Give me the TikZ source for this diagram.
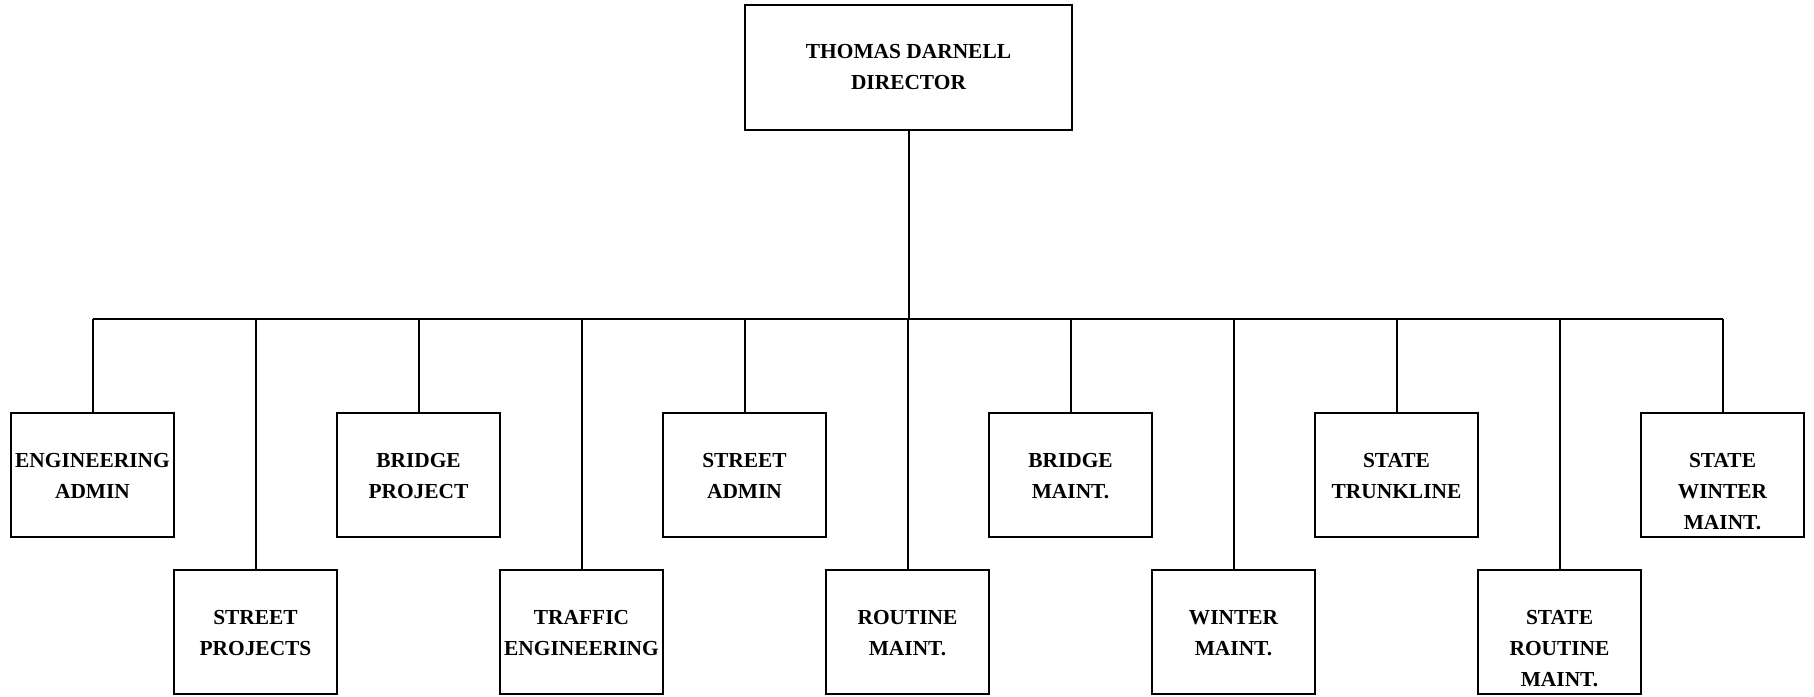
\documentclass[tikz,border=0pt]{standalone}
\usepackage{fontspec}
\setmainfont{Liberation Serif}
\begin{document}
\newcommand{\unitlabel}[1]{\parbox[c][62pt][t]{81.5pt}{\centering\vspace*{20pt}#1\par}}
\begin{tikzpicture}[x=0.5pt,y=-0.5pt,
  unit/.style={draw, line width=1.3pt, inner sep=0pt, outer sep=0pt,
    font=\fontsize{10.7pt}{15.5pt}\selectfont\bfseries},
  link/.style={line width=1pt}]
\useasboundingbox (0,0) rectangle (1814,696);

% director
\node[unit] (dir) at (908.5,67.5)
  {\parbox[c][62.5pt][c]{163.5pt}{\centering THOMAS DARNELL\\DIRECTOR\par}};

% upper row of units
\node[unit] (ea)  at (92.5,475)   {\unitlabel{ENGINEERING\\ADMIN}};
\node[unit] (bp)  at (418.5,475)  {\unitlabel{BRIDGE\\PROJECT}};
\node[unit] (sa)  at (744.5,475)  {\unitlabel{STREET\\ADMIN}};
\node[unit] (bm)  at (1070.5,475) {\unitlabel{BRIDGE\\MAINT.}};
\node[unit] (st)  at (1396.5,475) {\unitlabel{STATE\\TRUNKLINE}};
\node[unit] (swm) at (1722.5,475) {\unitlabel{STATE\\WINTER\\MAINT.}};

% lower row of units
\node[unit] (sp)  at (255.5,632)  {\unitlabel{STREET\\PROJECTS}};
\node[unit] (te)  at (581.5,632)  {\unitlabel{TRAFFIC\\ENGINEERING}};
\node[unit] (rm)  at (907.5,632)  {\unitlabel{ROUTINE\\MAINT.}};
\node[unit] (wm)  at (1233.5,632) {\unitlabel{WINTER\\MAINT.}};
\node[unit] (srm) at (1559.5,632) {\unitlabel{STATE\\ROUTINE\\MAINT.}};

% distribution bus
\coordinate (bus) at (0,319);
\draw[link] (dir.south) -- (dir.south |- bus);
\draw[link] (ea.north |- bus) -- (swm.north |- bus);
\foreach \u in {ea,sp,bp,te,sa,rm,bm,wm,st,srm,swm}
  \draw[link] (\u.north |- bus) -- (\u.north);
\end{tikzpicture}
\end{document}
